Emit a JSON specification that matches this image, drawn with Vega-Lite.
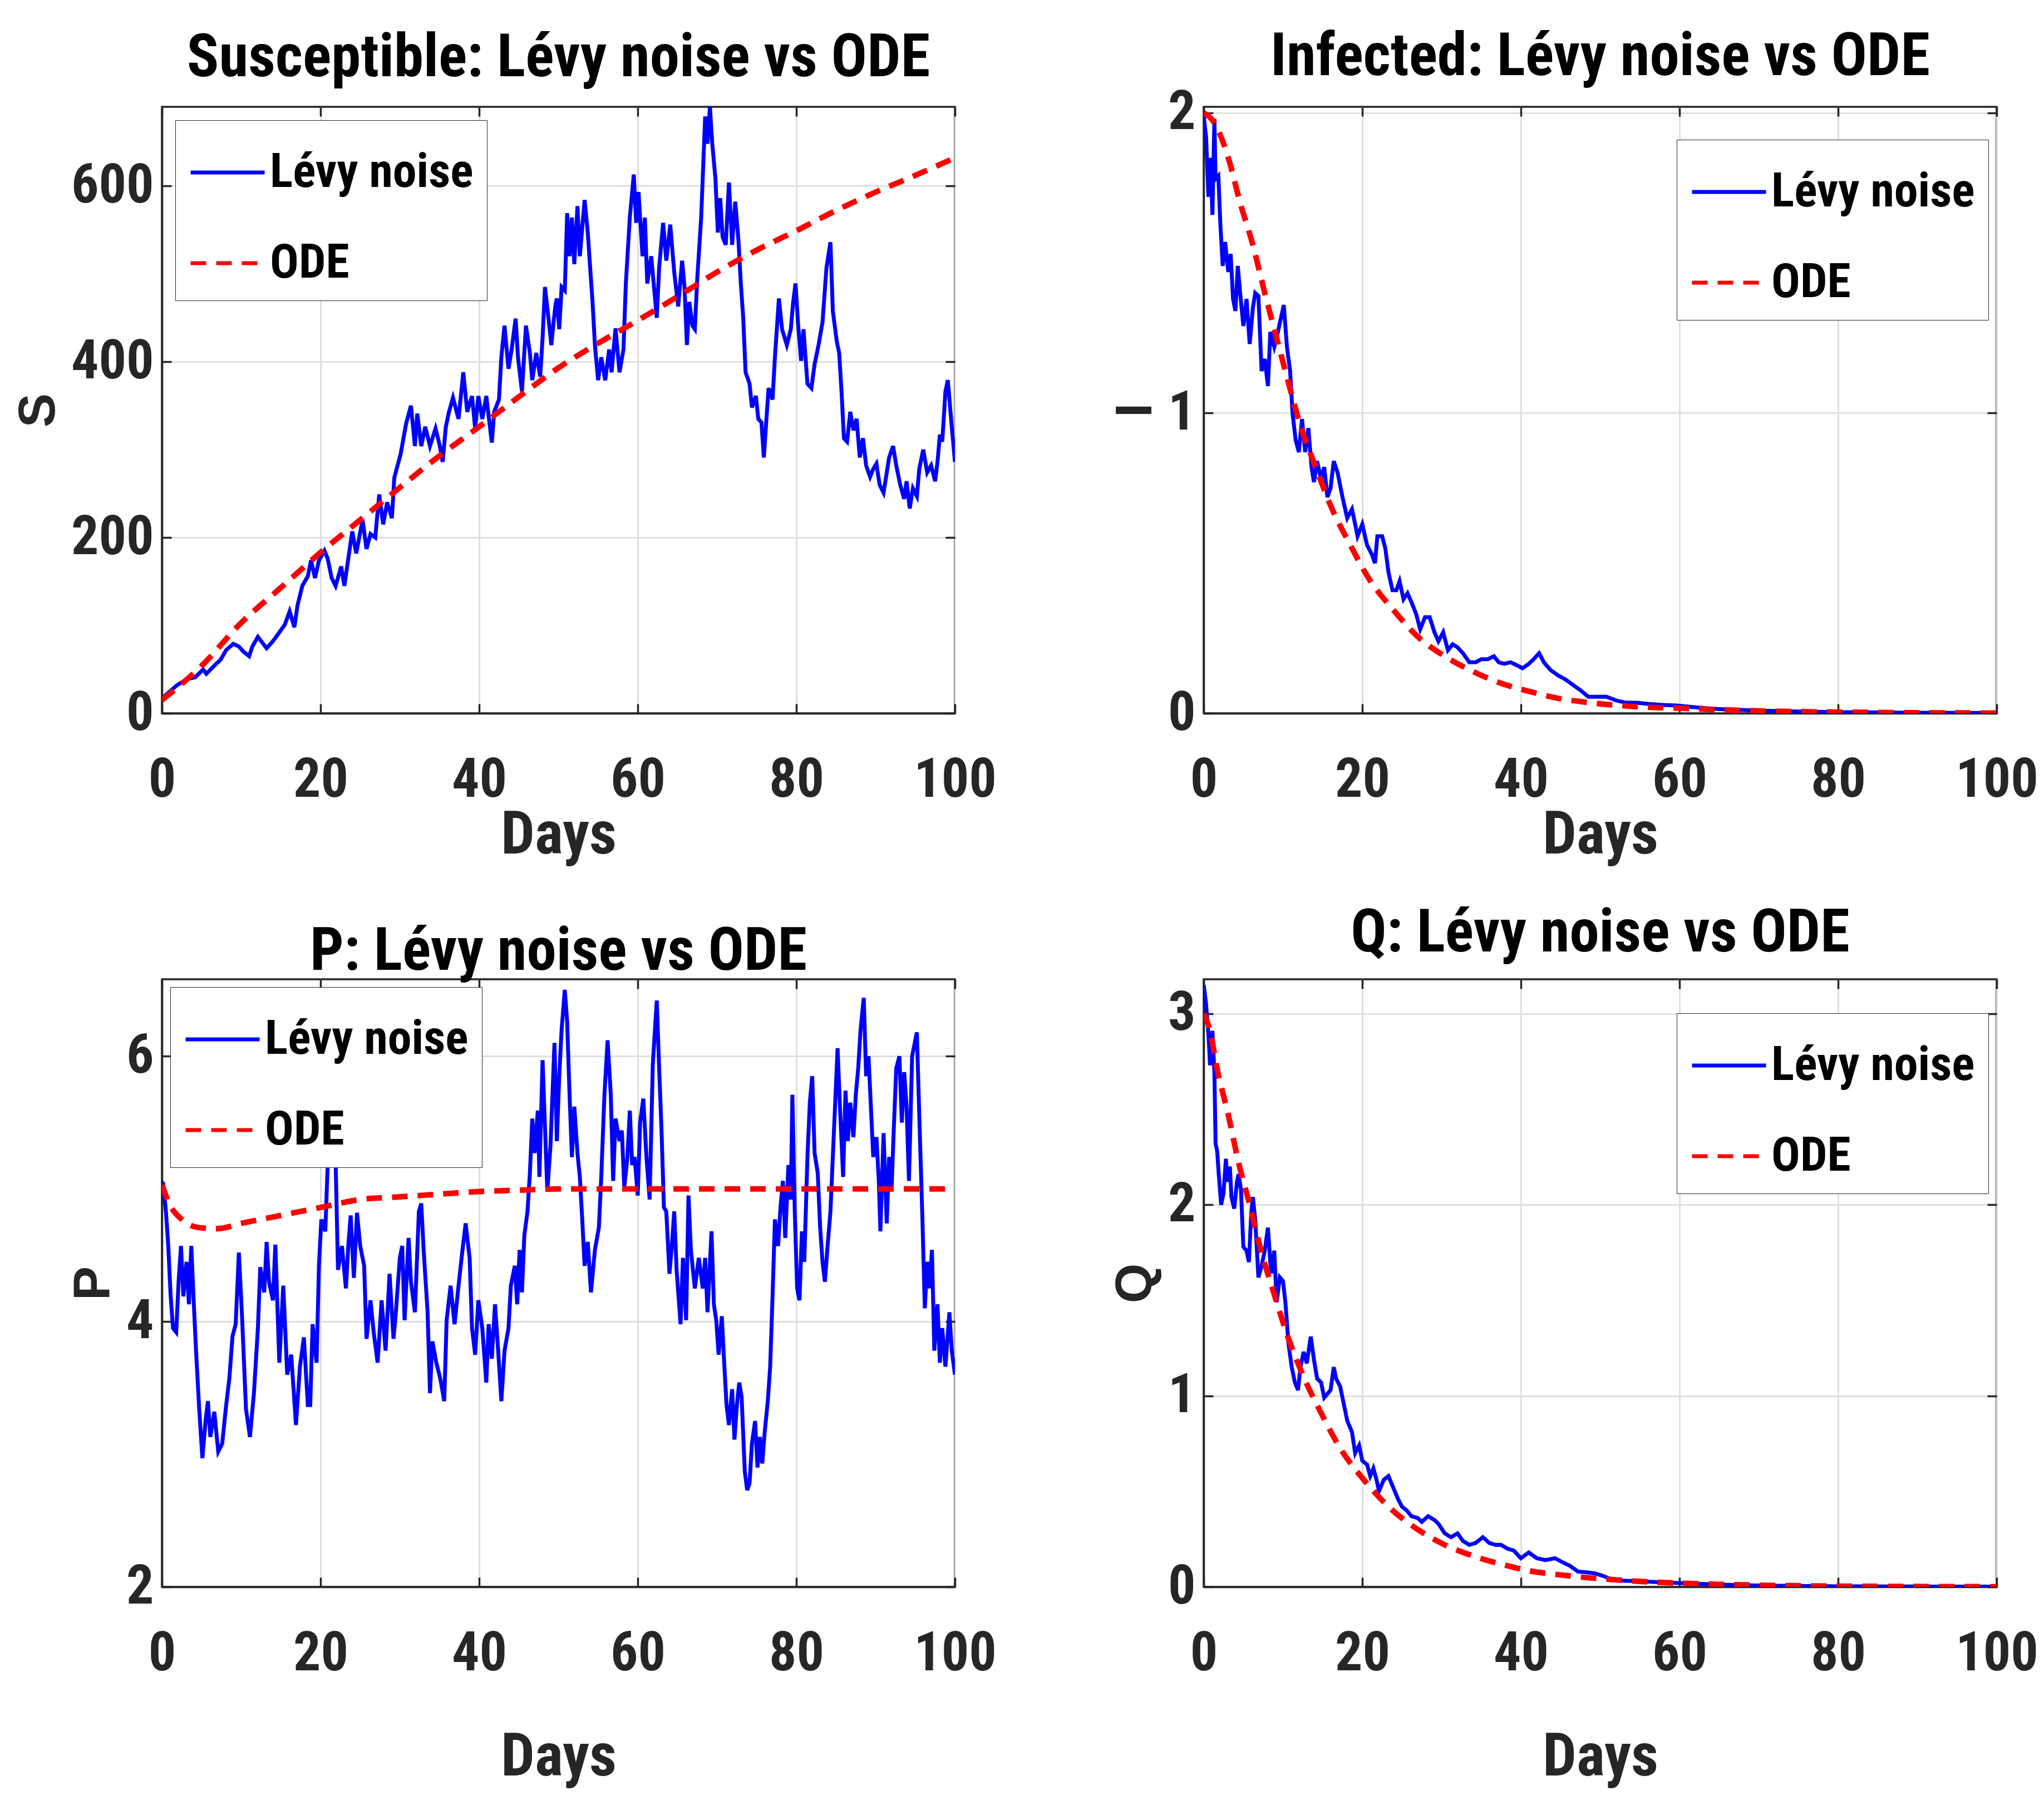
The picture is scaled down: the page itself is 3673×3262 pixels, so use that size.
{
  "$schema": "https://vega.github.io/schema/vega-lite/v6.json",
  "background": "white",
  "padding": {"left": 21, "top": 47, "right": 0, "bottom": 20},
  "columns": 2,
  "bounds": "flush",
  "spacing": {"row": 478, "column": 447},
  "resolve": {"scale": {"color": "independent", "strokeDash": "independent"}},
  "config": {
    "font": "'Roboto Condensed', 'DejaVu Sans Condensed', 'Liberation Sans'",
    "view": {"stroke": "#262626", "strokeWidth": 3.5},
    "title": {"font": "'Roboto Condensed', 'DejaVu Sans Condensed', 'Liberation Sans'", "fontWeight": "bold", "fontSize": 107, "color": "black", "anchor": "middle", "baseline": "alphabetic"},
    "axis": {
      "labelFont": "'Roboto Condensed', 'DejaVu Sans Condensed', 'Liberation Sans'", "labelFontWeight": "bold", "labelFontSize": 98, "labelColor": "#262626", "labelFlush": false,
      "domainColor": "#262626", "domainWidth": 3.5, "tickColor": "#262626", "tickWidth": 3.5, "tickSize": -17,
      "gridColor": "#dfdfdf", "gridWidth": 3,
      "titleFont": "'Roboto Condensed', 'DejaVu Sans Condensed', 'Liberation Sans'", "titleFontWeight": "bold", "titleFontSize": 108, "titleColor": "#262626"
    },
    "axisX": {"labelPadding": 89},
    "axisY": {"labelPadding": 32, "titleFont": "Liberation Sans", "titleFontSize": 92, "titlePadding": 11, "format": "d"},
    "legend": {
      "orient": "none", "title": null, "labelFont": "'Roboto Condensed', 'DejaVu Sans Condensed', 'Liberation Sans'", "labelFontWeight": "bold", "labelFontSize": 86, "labelColor": "black", "labelLimit": 3000,
      "symbolType": "stroke", "symbolSize": 17689, "symbolStrokeWidth": 7, "strokeColor": "#262626", "fillColor": "white",
      "padding": 24, "rowPadding": 50, "labelOffset": 6
    }
  },
  "datasets": {
    "S_levy": [
      {"d":0,"v":17},{"d":1.9,"v":32},{"d":3.2,"v":39},{"d":4.2,"v":41},{"d":5.2,"v":50},{"d":5.6,"v":45},{"d":6.8,"v":56},{"d":7.4,"v":61},{"d":8.1,"v":72},{"d":9.0,"v":79},{"d":9.7,"v":76},{"d":10.3,"v":70},{"d":11.0,"v":65},{"d":11.4,"v":76},{"d":12.1,"v":87},{"d":13.2,"v":74},{"d":13.9,"v":81},{"d":14.8,"v":92},{"d":15.5,"v":101},{"d":16.1,"v":116},{"d":16.7,"v":98},{"d":17.1,"v":123},{"d":17.7,"v":145},{"d":18.4,"v":156},{"d":18.8,"v":174},{"d":19.3,"v":154},{"d":19.8,"v":174},{"d":20.5,"v":185},{"d":20.9,"v":176},{"d":21.4,"v":154},{"d":21.9,"v":145},{"d":22.6,"v":167},{"d":23.0,"v":145},{"d":23.5,"v":176},{"d":24.0,"v":207},{"d":24.5,"v":182},{"d":25.3,"v":220},{"d":25.8,"v":187},{"d":26.3,"v":204},{"d":26.9,"v":200},{"d":27.4,"v":249},{"d":27.9,"v":215},{"d":28.4,"v":240},{"d":29.0,"v":222},{"d":29.3,"v":268},{"d":30.1,"v":295},{"d":30.8,"v":330},{"d":31.4,"v":350},{"d":31.9,"v":304},{"d":32.2,"v":341},{"d":32.7,"v":304},{"d":33.2,"v":326},{"d":33.8,"v":304},{"d":34.5,"v":324},{"d":35.0,"v":306},{"d":35.4,"v":286},{"d":35.8,"v":326},{"d":36.2,"v":343},{"d":36.7,"v":359},{"d":37.4,"v":335},{"d":38.0,"v":388},{"d":38.5,"v":343},{"d":39.1,"v":361},{"d":39.5,"v":324},{"d":39.9,"v":361},{"d":40.4,"v":335},{"d":40.9,"v":361},{"d":41.6,"v":308},{"d":41.9,"v":343},{"d":42.5,"v":357},{"d":42.8,"v":405},{"d":43.2,"v":441},{"d":43.7,"v":392},{"d":44.1,"v":414},{"d":44.6,"v":449},{"d":44.9,"v":405},{"d":45.4,"v":366},{"d":45.9,"v":441},{"d":46.4,"v":410},{"d":46.7,"v":379},{"d":47.2,"v":410},{"d":47.7,"v":383},{"d":48.0,"v":427},{"d":48.3,"v":485},{"d":48.8,"v":445},{"d":49.1,"v":419},{"d":49.6,"v":463},{"d":49.8,"v":472},{"d":50.1,"v":437},{"d":50.4,"v":485},{"d":50.8,"v":481},{"d":51.1,"v":569},{"d":51.4,"v":520},{"d":51.7,"v":564},{"d":52.0,"v":511},{"d":52.4,"v":577},{"d":52.7,"v":520},{"d":53.3,"v":584},{"d":53.7,"v":547},{"d":54.0,"v":507},{"d":54.3,"v":468},{"d":54.6,"v":419},{"d":55.0,"v":379},{"d":55.4,"v":405},{"d":55.9,"v":379},{"d":56.4,"v":414},{"d":56.7,"v":388},{"d":57.2,"v":438},{"d":57.7,"v":388},{"d":58.2,"v":414},{"d":58.5,"v":489},{"d":59.0,"v":564},{"d":59.5,"v":613},{"d":59.8,"v":558},{"d":60.1,"v":593},{"d":60.6,"v":520},{"d":60.9,"v":564},{"d":61.2,"v":489},{"d":61.7,"v":520},{"d":62.4,"v":450},{"d":62.7,"v":507},{"d":63.2,"v":558},{"d":63.6,"v":515},{"d":64.1,"v":556},{"d":64.6,"v":502},{"d":65.1,"v":463},{"d":65.6,"v":515},{"d":65.9,"v":485},{"d":66.2,"v":419},{"d":66.5,"v":468},{"d":66.9,"v":441},{"d":67.2,"v":437},{"d":67.5,"v":494},{"d":68.0,"v":564},{"d":68.5,"v":679},{"d":68.8,"v":648},{"d":69.1,"v":690},{"d":69.4,"v":648},{"d":69.8,"v":608},{"d":70.1,"v":547},{"d":70.4,"v":586},{"d":70.7,"v":542},{"d":71.1,"v":533},{"d":71.5,"v":604},{"d":71.9,"v":533},{"d":72.3,"v":582},{"d":72.7,"v":538},{"d":73.0,"v":489},{"d":73.3,"v":450},{"d":73.6,"v":388},{"d":74.1,"v":375},{"d":74.4,"v":348},{"d":74.9,"v":361},{"d":75.2,"v":335},{"d":75.6,"v":331},{"d":75.9,"v":291},{"d":76.2,"v":331},{"d":76.5,"v":370},{"d":77.0,"v":357},{"d":77.3,"v":405},{"d":77.8,"v":472},{"d":78.2,"v":437},{"d":78.8,"v":419},{"d":79.3,"v":437},{"d":79.6,"v":468},{"d":79.9,"v":489},{"d":80.2,"v":445},{"d":80.6,"v":401},{"d":80.9,"v":437},{"d":81.4,"v":375},{"d":81.9,"v":370},{"d":82.3,"v":397},{"d":82.8,"v":419},{"d":83.3,"v":445},{"d":83.8,"v":507},{"d":84.3,"v":536},{"d":84.6,"v":458},{"d":85.1,"v":423},{"d":85.4,"v":410},{"d":85.7,"v":366},{"d":86.0,"v":313},{"d":86.4,"v":309},{"d":86.8,"v":343},{"d":87.2,"v":322},{"d":87.6,"v":335},{"d":88.0,"v":291},{"d":88.4,"v":313},{"d":88.8,"v":282},{"d":89.3,"v":269},{"d":89.7,"v":278},{"d":90.1,"v":284},{"d":90.5,"v":260},{"d":91.0,"v":251},{"d":91.7,"v":291},{"d":92.2,"v":304},{"d":92.6,"v":282},{"d":93.1,"v":260},{"d":93.6,"v":244},{"d":93.9,"v":264},{"d":94.3,"v":233},{"d":94.7,"v":256},{"d":95.2,"v":247},{"d":95.5,"v":278},{"d":96.0,"v":300},{"d":96.5,"v":274},{"d":97.0,"v":282},{"d":97.5,"v":264},{"d":97.8,"v":286},{"d":98.1,"v":317},{"d":98.4,"v":309},{"d":98.8,"v":366},{"d":99.1,"v":379},{"d":99.6,"v":326},{"d":100,"v":286}
    ],
    "S_ode": [
      {"d":0,"v":15},{"d":5,"v":54},{"d":10,"v":103},{"d":15,"v":143},{"d":20,"v":183},{"d":25,"v":220},{"d":30,"v":257},{"d":35,"v":293},{"d":40,"v":326},{"d":45,"v":360},{"d":50,"v":393},{"d":55,"v":421},{"d":60,"v":447},{"d":65,"v":474},{"d":70,"v":502},{"d":75,"v":527},{"d":80,"v":549},{"d":85,"v":572},{"d":90,"v":593},{"d":95,"v":612},{"d":100,"v":632}
    ],
    "I_levy": [
      {"d":0,"v":1.99},{"d":0.3,"v":1.92},{"d":0.6,"v":1.72},{"d":0.85,"v":1.85},{"d":1.1,"v":1.66},{"d":1.35,"v":1.98},{"d":1.5,"v":1.78},{"d":1.85,"v":1.79},{"d":2.1,"v":1.63},{"d":2.4,"v":1.49},{"d":2.7,"v":1.57},{"d":3.1,"v":1.47},{"d":3.4,"v":1.53},{"d":3.7,"v":1.38},{"d":4.0,"v":1.34},{"d":4.3,"v":1.49},{"d":4.6,"v":1.40},{"d":5.0,"v":1.29},{"d":5.4,"v":1.38},{"d":5.8,"v":1.23},{"d":6.2,"v":1.35},{"d":6.5,"v":1.40},{"d":6.9,"v":1.39},{"d":7.3,"v":1.14},{"d":7.7,"v":1.18},{"d":8.1,"v":1.09},{"d":8.4,"v":1.27},{"d":8.9,"v":1.22},{"d":9.2,"v":1.25},{"d":9.6,"v":1.30},{"d":10.1,"v":1.36},{"d":10.5,"v":1.22},{"d":10.9,"v":1.14},{"d":11.2,"v":1.00},{"d":11.6,"v":0.91},{"d":12.0,"v":0.87},{"d":12.4,"v":0.98},{"d":12.8,"v":0.87},{"d":13.2,"v":0.95},{"d":13.6,"v":0.82},{"d":13.9,"v":0.77},{"d":14.3,"v":0.84},{"d":14.8,"v":0.78},{"d":15.2,"v":0.82},{"d":15.6,"v":0.72},{"d":16.0,"v":0.75},{"d":16.4,"v":0.84},{"d":16.9,"v":0.80},{"d":17.5,"v":0.72},{"d":18.1,"v":0.65},{"d":18.7,"v":0.68},{"d":19.1,"v":0.63},{"d":19.4,"v":0.59},{"d":20.0,"v":0.63},{"d":20.6,"v":0.56},{"d":21.2,"v":0.53},{"d":21.6,"v":0.50},{"d":21.9,"v":0.59},{"d":22.5,"v":0.59},{"d":22.9,"v":0.55},{"d":23.3,"v":0.47},{"d":23.8,"v":0.41},{"d":24.3,"v":0.41},{"d":24.7,"v":0.44},{"d":25.2,"v":0.38},{"d":25.7,"v":0.40},{"d":26.2,"v":0.37},{"d":26.8,"v":0.33},{"d":27.3,"v":0.28},{"d":27.9,"v":0.32},{"d":28.5,"v":0.32},{"d":29.1,"v":0.27},{"d":29.6,"v":0.24},{"d":30.2,"v":0.27},{"d":30.8,"v":0.21},{"d":31.4,"v":0.23},{"d":32.0,"v":0.22},{"d":32.7,"v":0.20},{"d":33.5,"v":0.17},{"d":34.3,"v":0.17},{"d":35.0,"v":0.18},{"d":35.8,"v":0.18},{"d":36.6,"v":0.19},{"d":37.2,"v":0.17},{"d":37.9,"v":0.165},{"d":38.7,"v":0.17},{"d":39.5,"v":0.16},{"d":40.2,"v":0.15},{"d":41.0,"v":0.165},{"d":41.6,"v":0.18},{"d":42.3,"v":0.20},{"d":42.9,"v":0.17},{"d":43.7,"v":0.145},{"d":44.7,"v":0.126},{"d":45.6,"v":0.113},{"d":46.6,"v":0.094},{"d":47.6,"v":0.075},{"d":48.5,"v":0.055},{"d":49.7,"v":0.055},{"d":50.8,"v":0.055},{"d":52.0,"v":0.043},{"d":53.1,"v":0.036},{"d":54.7,"v":0.035},{"d":56.2,"v":0.031},{"d":57.8,"v":0.028},{"d":59.7,"v":0.026},{"d":62,"v":0.02},{"d":65,"v":0.014},{"d":70,"v":0.009},{"d":75,"v":0.006},{"d":80,"v":0.004},{"d":90,"v":0.002},{"d":100,"v":0.001}
    ],
    "I_ode": [
      {"d":0,"v":2.0},{"d":1.5,"v":1.96},{"d":3.1,"v":1.85},{"d":4.6,"v":1.70},{"d":6.2,"v":1.56},{"d":7.7,"v":1.40},{"d":9.2,"v":1.25},{"d":10.8,"v":1.09},{"d":12.3,"v":0.95},{"d":13.9,"v":0.835},{"d":16.2,"v":0.68},{"d":18.5,"v":0.56},{"d":20.8,"v":0.45},{"d":23.9,"v":0.345},{"d":27,"v":0.255},{"d":30.4,"v":0.19},{"d":33.9,"v":0.14},{"d":37.5,"v":0.10},{"d":41.2,"v":0.072},{"d":44.9,"v":0.049},{"d":48.5,"v":0.036},{"d":52.4,"v":0.026},{"d":56.2,"v":0.02},{"d":59.7,"v":0.017},{"d":65,"v":0.012},{"d":70,"v":0.008},{"d":80,"v":0.004},{"d":90,"v":0.002},{"d":100,"v":0.001}
    ],
    "P_levy": [
      {"d":0,"v":5.05},{"d":0.16,"v":5.04},{"d":0.5,"v":4.83},{"d":0.8,"v":4.57},{"d":1.1,"v":4.19},{"d":1.4,"v":3.95},{"d":1.8,"v":3.92},{"d":2.1,"v":4.30},{"d":2.4,"v":4.57},{"d":2.7,"v":4.19},{"d":3.1,"v":4.45},{"d":3.4,"v":4.13},{"d":3.7,"v":4.57},{"d":4.0,"v":4.16},{"d":4.3,"v":3.78},{"d":4.7,"v":3.34},{"d":5.1,"v":2.97},{"d":5.5,"v":3.25},{"d":5.8,"v":3.40},{"d":6.1,"v":3.13},{"d":6.6,"v":3.32},{"d":7.1,"v":3.02},{"d":7.6,"v":3.08},{"d":8.1,"v":3.37},{"d":8.5,"v":3.57},{"d":8.9,"v":3.89},{"d":9.3,"v":3.98},{"d":9.7,"v":4.52},{"d":10.1,"v":4.04},{"d":10.6,"v":3.34},{"d":11.1,"v":3.13},{"d":11.6,"v":3.46},{"d":12.1,"v":3.95},{"d":12.4,"v":4.41},{"d":12.9,"v":4.22},{"d":13.2,"v":4.60},{"d":13.5,"v":4.30},{"d":14.0,"v":4.16},{"d":14.3,"v":4.58},{"d":14.8,"v":3.69},{"d":15.3,"v":4.27},{"d":15.8,"v":3.60},{"d":16.3,"v":3.75},{"d":16.6,"v":3.49},{"d":16.9,"v":3.22},{"d":17.4,"v":3.66},{"d":17.9,"v":3.88},{"d":18.4,"v":3.37},{"d":18.7,"v":3.37},{"d":19.0,"v":3.98},{"d":19.5,"v":3.69},{"d":19.8,"v":4.42},{"d":20.1,"v":4.77},{"d":20.6,"v":4.68},{"d":20.9,"v":5.18},{"d":21.4,"v":5.53},{"d":21.9,"v":5.21},{"d":22.2,"v":4.39},{"d":22.7,"v":4.57},{"d":23.2,"v":4.25},{"d":23.5,"v":4.57},{"d":23.8,"v":4.80},{"d":24.2,"v":4.33},{"d":24.6,"v":4.82},{"d":25.0,"v":4.57},{"d":25.5,"v":4.42},{"d":25.8,"v":3.87},{"d":26.3,"v":4.16},{"d":26.7,"v":3.92},{"d":27.2,"v":3.69},{"d":27.7,"v":4.16},{"d":28.2,"v":3.78},{"d":28.7,"v":4.36},{"d":29.2,"v":3.87},{"d":29.5,"v":4.07},{"d":30.0,"v":4.48},{"d":30.3,"v":4.57},{"d":30.6,"v":4.01},{"d":31.1,"v":4.63},{"d":31.4,"v":4.30},{"d":31.9,"v":4.07},{"d":32.4,"v":4.83},{"d":32.7,"v":4.89},{"d":33.0,"v":4.54},{"d":33.5,"v":4.07},{"d":33.8,"v":3.46},{"d":34.1,"v":3.85},{"d":34.6,"v":3.69},{"d":35.1,"v":3.57},{"d":35.6,"v":3.40},{"d":35.9,"v":4.01},{"d":36.4,"v":4.27},{"d":36.9,"v":3.98},{"d":37.4,"v":4.27},{"d":37.9,"v":4.54},{"d":38.3,"v":4.74},{"d":38.8,"v":4.48},{"d":39.1,"v":3.95},{"d":39.5,"v":3.75},{"d":39.9,"v":4.16},{"d":40.4,"v":3.95},{"d":40.9,"v":3.54},{"d":41.2,"v":3.98},{"d":41.6,"v":3.72},{"d":42.0,"v":4.13},{"d":42.4,"v":3.78},{"d":42.8,"v":3.40},{"d":43.2,"v":3.78},{"d":43.7,"v":3.95},{"d":44.0,"v":4.27},{"d":44.5,"v":4.42},{"d":44.8,"v":4.13},{"d":45.1,"v":4.54},{"d":45.4,"v":4.22},{"d":45.7,"v":4.65},{"d":46.1,"v":4.83},{"d":46.4,"v":5.12},{"d":46.7,"v":5.53},{"d":47.0,"v":5.27},{"d":47.4,"v":5.59},{"d":47.6,"v":5.09},{"d":48.0,"v":5.97},{"d":48.3,"v":5.47},{"d":48.6,"v":4.98},{"d":49.0,"v":5.33},{"d":49.5,"v":6.10},{"d":49.8,"v":5.36},{"d":50.1,"v":5.85},{"d":50.4,"v":6.20},{"d":50.8,"v":6.50},{"d":51.1,"v":6.26},{"d":51.4,"v":5.71},{"d":51.7,"v":5.24},{"d":52.0,"v":5.62},{"d":52.4,"v":5.27},{"d":52.7,"v":5.09},{"d":53.0,"v":4.77},{"d":53.3,"v":4.42},{"d":53.7,"v":4.60},{"d":54.1,"v":4.22},{"d":54.6,"v":4.54},{"d":55.1,"v":4.71},{"d":55.4,"v":5.09},{"d":55.8,"v":5.71},{"d":56.2,"v":6.12},{"d":56.6,"v":5.71},{"d":56.9,"v":5.06},{"d":57.2,"v":5.53},{"d":57.7,"v":5.36},{"d":58.0,"v":5.44},{"d":58.3,"v":5.01},{"d":58.7,"v":5.24},{"d":59.0,"v":5.59},{"d":59.3,"v":5.18},{"d":59.6,"v":5.24},{"d":60.0,"v":4.95},{"d":60.3,"v":5.50},{"d":60.7,"v":5.68},{"d":61.1,"v":5.24},{"d":61.5,"v":4.92},{"d":61.9,"v":5.94},{"d":62.4,"v":6.42},{"d":62.7,"v":5.91},{"d":63.0,"v":5.44},{"d":63.3,"v":4.86},{"d":63.6,"v":4.83},{"d":64.0,"v":4.36},{"d":64.3,"v":4.57},{"d":64.6,"v":4.83},{"d":64.9,"v":4.39},{"d":65.4,"v":3.98},{"d":65.7,"v":4.48},{"d":66.1,"v":4.01},{"d":66.4,"v":4.95},{"d":66.7,"v":4.54},{"d":67.2,"v":4.25},{"d":67.7,"v":4.48},{"d":68.2,"v":4.25},{"d":68.5,"v":4.48},{"d":68.8,"v":4.07},{"d":69.3,"v":4.68},{"d":69.6,"v":4.13},{"d":69.9,"v":4.01},{"d":70.2,"v":3.75},{"d":70.6,"v":4.04},{"d":70.9,"v":3.69},{"d":71.2,"v":3.37},{"d":71.5,"v":3.22},{"d":71.9,"v":3.49},{"d":72.2,"v":3.11},{"d":72.5,"v":3.37},{"d":72.8,"v":3.54},{"d":73.1,"v":3.43},{"d":73.5,"v":2.87},{"d":73.8,"v":2.73},{"d":74.1,"v":2.78},{"d":74.4,"v":3.08},{"d":74.8,"v":3.25},{"d":75.1,"v":2.90},{"d":75.4,"v":3.13},{"d":75.7,"v":2.93},{"d":76.0,"v":3.16},{"d":76.4,"v":3.40},{"d":76.7,"v":3.66},{"d":77.0,"v":4.19},{"d":77.3,"v":4.77},{"d":77.7,"v":4.57},{"d":78.0,"v":4.86},{"d":78.3,"v":5.06},{"d":78.6,"v":4.63},{"d":79.0,"v":5.18},{"d":79.3,"v":4.92},{"d":79.5,"v":5.71},{"d":79.8,"v":4.83},{"d":80.1,"v":4.25},{"d":80.4,"v":4.16},{"d":80.7,"v":4.68},{"d":81.0,"v":4.45},{"d":81.4,"v":5.24},{"d":81.7,"v":5.65},{"d":82.0,"v":5.85},{"d":82.3,"v":5.27},{"d":82.7,"v":5.12},{"d":83.0,"v":4.71},{"d":83.3,"v":4.45},{"d":83.6,"v":4.30},{"d":83.9,"v":4.54},{"d":84.3,"v":4.83},{"d":84.6,"v":5.24},{"d":84.9,"v":5.65},{"d":85.2,"v":6.06},{"d":85.5,"v":5.62},{"d":85.9,"v":5.09},{"d":86.2,"v":5.74},{"d":86.5,"v":5.36},{"d":86.8,"v":5.65},{"d":87.2,"v":5.39},{"d":87.5,"v":5.71},{"d":87.8,"v":5.91},{"d":88.1,"v":6.20},{"d":88.5,"v":6.44},{"d":88.8,"v":5.85},{"d":89.1,"v":6.00},{"d":89.4,"v":5.62},{"d":89.7,"v":5.24},{"d":90.1,"v":5.39},{"d":90.4,"v":5.06},{"d":90.6,"v":4.68},{"d":91.0,"v":5.42},{"d":91.4,"v":4.74},{"d":91.7,"v":5.24},{"d":92.0,"v":4.98},{"d":92.3,"v":5.47},{"d":92.6,"v":5.91},{"d":93.0,"v":6.00},{"d":93.3,"v":5.50},{"d":93.6,"v":5.88},{"d":93.9,"v":5.62},{"d":94.2,"v":5.06},{"d":94.6,"v":6.00},{"d":94.9,"v":6.09},{"d":95.2,"v":6.18},{"d":95.5,"v":5.56},{"d":95.9,"v":4.77},{"d":96.2,"v":4.10},{"d":96.5,"v":4.45},{"d":96.8,"v":4.25},{"d":97.1,"v":4.54},{"d":97.4,"v":3.78},{"d":97.8,"v":4.13},{"d":98.1,"v":3.69},{"d":98.4,"v":3.95},{"d":98.8,"v":3.66},{"d":99.3,"v":4.07},{"d":99.6,"v":3.78},{"d":100,"v":3.60}
    ],
    "P_ode": [
      {"d":0,"v":5.03},{"d":1,"v":4.88},{"d":2.5,"v":4.77},{"d":4.5,"v":4.71},{"d":7,"v":4.70},{"d":10,"v":4.74},{"d":15,"v":4.80},{"d":20,"v":4.86},{"d":25,"v":4.92},{"d":30,"v":4.94},{"d":35,"v":4.96},{"d":40,"v":4.98},{"d":45,"v":4.99},{"d":50,"v":5.0},{"d":60,"v":5.0},{"d":80,"v":5.0},{"d":100,"v":5.0}
    ],
    "Q_levy": [
      {"d":0,"v":3.15},{"d":0.3,"v":3.05},{"d":0.6,"v":2.89},{"d":0.8,"v":2.73},{"d":1.1,"v":2.91},{"d":1.35,"v":2.69},{"d":1.5,"v":2.32},{"d":1.7,"v":2.28},{"d":1.9,"v":2.16},{"d":2.2,"v":2.00},{"d":2.5,"v":2.06},{"d":2.8,"v":2.24},{"d":3.0,"v":2.12},{"d":3.3,"v":2.20},{"d":3.5,"v":2.04},{"d":3.85,"v":1.98},{"d":4.2,"v":2.12},{"d":4.4,"v":2.16},{"d":4.7,"v":2.08},{"d":5.0,"v":1.78},{"d":5.4,"v":1.76},{"d":5.7,"v":1.70},{"d":6.0,"v":1.96},{"d":6.2,"v":2.04},{"d":6.5,"v":1.92},{"d":6.9,"v":1.62},{"d":7.3,"v":1.68},{"d":7.7,"v":1.76},{"d":8.1,"v":1.88},{"d":8.5,"v":1.64},{"d":8.9,"v":1.76},{"d":9.2,"v":1.49},{"d":9.6,"v":1.62},{"d":10.0,"v":1.60},{"d":10.3,"v":1.49},{"d":10.7,"v":1.27},{"d":11.1,"v":1.15},{"d":11.5,"v":1.07},{"d":11.9,"v":1.03},{"d":12.2,"v":1.15},{"d":12.6,"v":1.23},{"d":13.0,"v":1.17},{"d":13.5,"v":1.31},{"d":13.9,"v":1.19},{"d":14.3,"v":1.09},{"d":14.8,"v":1.07},{"d":15.2,"v":0.99},{"d":15.6,"v":1.01},{"d":16.0,"v":1.03},{"d":16.4,"v":1.15},{"d":16.7,"v":1.09},{"d":17.2,"v":1.05},{"d":17.7,"v":0.95},{"d":18.1,"v":0.87},{"d":18.7,"v":0.81},{"d":19.1,"v":0.70},{"d":19.6,"v":0.74},{"d":20.0,"v":0.66},{"d":20.6,"v":0.64},{"d":21.0,"v":0.58},{"d":21.4,"v":0.62},{"d":21.8,"v":0.56},{"d":22.1,"v":0.50},{"d":22.7,"v":0.56},{"d":23.3,"v":0.58},{"d":23.9,"v":0.52},{"d":24.5,"v":0.46},{"d":25.0,"v":0.42},{"d":25.6,"v":0.40},{"d":26.2,"v":0.37},{"d":27.0,"v":0.36},{"d":27.5,"v":0.34},{"d":28.3,"v":0.37},{"d":29.1,"v":0.35},{"d":29.6,"v":0.33},{"d":30.4,"v":0.28},{"d":31.2,"v":0.26},{"d":32.0,"v":0.28},{"d":32.7,"v":0.24},{"d":33.5,"v":0.22},{"d":34.3,"v":0.23},{"d":35.2,"v":0.26},{"d":36.0,"v":0.23},{"d":36.8,"v":0.22},{"d":37.5,"v":0.22},{"d":38.3,"v":0.20},{"d":39.1,"v":0.19},{"d":40.0,"v":0.15},{"d":41.0,"v":0.18},{"d":42.0,"v":0.15},{"d":43.1,"v":0.14},{"d":44.3,"v":0.15},{"d":45.2,"v":0.13},{"d":46.2,"v":0.11},{"d":47.2,"v":0.08},{"d":48.1,"v":0.077},{"d":49.3,"v":0.071},{"d":50.4,"v":0.057},{"d":51.6,"v":0.036},{"d":53.1,"v":0.032},{"d":54.7,"v":0.03},{"d":56.6,"v":0.026},{"d":58.5,"v":0.022},{"d":60.1,"v":0.02},{"d":65,"v":0.012},{"d":70,"v":0.007},{"d":80,"v":0.003},{"d":90,"v":0.002},{"d":100,"v":0.001}
    ],
    "Q_ode": [
      {"d":0,"v":3.0},{"d":0.8,"v":2.91},{"d":1.7,"v":2.71},{"d":3.1,"v":2.47},{"d":4.4,"v":2.22},{"d":5.8,"v":2.0},{"d":7.1,"v":1.78},{"d":8.9,"v":1.53},{"d":10.6,"v":1.31},{"d":12.7,"v":1.09},{"d":14.8,"v":0.91},{"d":17.3,"v":0.72},{"d":20.2,"v":0.56},{"d":23.3,"v":0.42},{"d":27,"v":0.30},{"d":30.4,"v":0.22},{"d":34.1,"v":0.16},{"d":37.7,"v":0.117},{"d":41.2,"v":0.083},{"d":44.9,"v":0.063},{"d":48.7,"v":0.047},{"d":52.4,"v":0.036},{"d":56.2,"v":0.026},{"d":59.7,"v":0.02},{"d":70,"v":0.009},{"d":80,"v":0.004},{"d":90,"v":0.002},{"d":100,"v":0.001}
    ]
  },
  "concat": [
    {
      "width": 1425, "height": 1090,
      "title": {"text": "Susceptible: Lévy noise vs ODE", "offset": 31},
      "resolve": {"axis": {"x": "independent", "y": "independent"}},
      "layer": [
        {"data": {"name": "S_levy"}, "mark": {"type": "line", "strokeWidth": 7, "clip": true},
         "encoding": {
           "x": {"field": "d", "type": "quantitative", "scale": {"domain": [0, 100], "nice": false}, "axis": {"values": [0, 20, 40, 60, 80, 100], "title": "Days", "titlePadding": -3}},
           "y": {"field": "v", "type": "quantitative", "scale": {"domain": [0, 690], "nice": false, "zero": false}, "axis": {"values": [0, 200, 400, 600], "title": "S"}},
           "color": {"datum": "Lévy noise", "type": "nominal", "scale": {"domain": ["Lévy noise", "ODE"], "range": ["#0000ff", "#ff0000"]}, "legend": {"legendX": 24, "legendY": 24}},
           "strokeDash": {"datum": "Lévy noise", "type": "nominal", "scale": {"domain": ["Lévy noise", "ODE"], "range": [[1, 0], [28, 18]]}, "legend": {"legendX": 24, "legendY": 24}}
         }},
        {"data": {"name": "S_ode"}, "mark": {"type": "line", "strokeWidth": 10, "interpolate": "monotone", "clip": true},
         "encoding": {
           "x": {"field": "d", "type": "quantitative", "axis": {"orient": "top", "values": [0, 20, 40, 60, 80, 100], "labels": false, "grid": false, "domain": false, "title": null}},
           "y": {"field": "v", "type": "quantitative", "axis": {"orient": "right", "values": [0, 200, 400, 600], "labels": false, "grid": false, "domain": false, "title": null}},
           "color": {"datum": "ODE", "type": "nominal"}, "strokeDash": {"datum": "ODE", "type": "nominal"}}}
      ]
    },
    {
      "width": 1425, "height": 1090,
      "title": {"text": "Infected: Lévy noise vs ODE", "offset": -3},
      "resolve": {"axis": {"x": "independent", "y": "independent"}},
      "layer": [
        {"data": {"name": "I_levy"}, "mark": {"type": "line", "strokeWidth": 7, "clip": true},
         "encoding": {
           "x": {"field": "d", "type": "quantitative", "scale": {"domain": [0, 100], "nice": false}, "axis": {"values": [0, 20, 40, 60, 80, 100], "title": "Days", "titlePadding": -3}},
           "y": {"field": "v", "type": "quantitative", "scale": {"domain": [0, 2.02], "nice": false, "zero": false}, "axis": {"values": [0, 1, 2], "title": "I"}},
           "color": {"datum": "Lévy noise", "type": "nominal", "scale": {"domain": ["Lévy noise", "ODE"], "range": ["#0000ff", "#ff0000"]}, "legend": {"legendX": 850, "legendY": 59}},
           "strokeDash": {"datum": "Lévy noise", "type": "nominal", "scale": {"domain": ["Lévy noise", "ODE"], "range": [[1, 0], [28, 18]]}, "legend": {"legendX": 850, "legendY": 59}}
         }},
        {"data": {"name": "I_ode"}, "mark": {"type": "line", "strokeWidth": 10, "interpolate": "monotone", "clip": true},
         "encoding": {
           "x": {"field": "d", "type": "quantitative", "axis": {"orient": "top", "values": [0, 20, 40, 60, 80, 100], "labels": false, "grid": false, "domain": false, "title": null}},
           "y": {"field": "v", "type": "quantitative", "axis": {"orient": "right", "values": [0, 1, 2], "labels": false, "grid": false, "domain": false, "title": null}},
           "color": {"datum": "ODE", "type": "nominal"}, "strokeDash": {"datum": "ODE", "type": "nominal"}}}
      ]
    },
    {
      "width": 1425, "height": 1092,
      "title": {"text": "P: Lévy noise vs ODE", "offset": -7},
      "resolve": {"axis": {"x": "independent", "y": "independent"}},
      "layer": [
        {"data": {"name": "P_levy"}, "mark": {"type": "line", "strokeWidth": 7, "clip": true},
         "encoding": {
           "x": {"field": "d", "type": "quantitative", "scale": {"domain": [0, 100], "nice": false}, "axis": {"values": [0, 20, 40, 60, 80, 100], "title": "Days", "titlePadding": 84}},
           "y": {"field": "v", "type": "quantitative", "scale": {"domain": [2, 6.58], "nice": false, "zero": false}, "axis": {"values": [2, 4, 6], "title": "P"}},
           "color": {"datum": "Lévy noise", "type": "nominal", "scale": {"domain": ["Lévy noise", "ODE"], "range": ["#0000ff", "#ff0000"]}, "legend": {"legendX": 15, "legendY": 14}},
           "strokeDash": {"datum": "Lévy noise", "type": "nominal", "scale": {"domain": ["Lévy noise", "ODE"], "range": [[1, 0], [28, 18]]}, "legend": {"legendX": 15, "legendY": 14}}
         }},
        {"data": {"name": "P_ode"}, "mark": {"type": "line", "strokeWidth": 10, "interpolate": "monotone", "clip": true},
         "encoding": {
           "x": {"field": "d", "type": "quantitative", "axis": {"orient": "top", "values": [0, 20, 40, 60, 80, 100], "labels": false, "grid": false, "domain": false, "title": null}},
           "y": {"field": "v", "type": "quantitative", "axis": {"orient": "right", "values": [2, 4, 6], "labels": false, "grid": false, "domain": false, "title": null}},
           "color": {"datum": "ODE", "type": "nominal"}, "strokeDash": {"datum": "ODE", "type": "nominal"}}}
      ]
    },
    {
      "width": 1425, "height": 1092,
      "title": {"text": "Q: Lévy noise vs ODE", "offset": 26},
      "resolve": {"axis": {"x": "independent", "y": "independent"}},
      "layer": [
        {"data": {"name": "Q_levy"}, "mark": {"type": "line", "strokeWidth": 7, "clip": true},
         "encoding": {
           "x": {"field": "d", "type": "quantitative", "scale": {"domain": [0, 100], "nice": false}, "axis": {"values": [0, 20, 40, 60, 80, 100], "title": "Days", "titlePadding": 84}},
           "y": {"field": "v", "type": "quantitative", "scale": {"domain": [0, 3.18], "nice": false, "zero": false}, "axis": {"values": [0, 1, 2, 3], "title": "Q"}},
           "color": {"datum": "Lévy noise", "type": "nominal", "scale": {"domain": ["Lévy noise", "ODE"], "range": ["#0000ff", "#ff0000"]}, "legend": {"legendX": 850, "legendY": 61}},
           "strokeDash": {"datum": "Lévy noise", "type": "nominal", "scale": {"domain": ["Lévy noise", "ODE"], "range": [[1, 0], [28, 18]]}, "legend": {"legendX": 850, "legendY": 61}}
         }},
        {"data": {"name": "Q_ode"}, "mark": {"type": "line", "strokeWidth": 10, "interpolate": "monotone", "clip": true},
         "encoding": {
           "x": {"field": "d", "type": "quantitative", "axis": {"orient": "top", "values": [0, 20, 40, 60, 80, 100], "labels": false, "grid": false, "domain": false, "title": null}},
           "y": {"field": "v", "type": "quantitative", "axis": {"orient": "right", "values": [0, 1, 2, 3], "labels": false, "grid": false, "domain": false, "title": null}},
           "color": {"datum": "ODE", "type": "nominal"}, "strokeDash": {"datum": "ODE", "type": "nominal"}}}
      ]
    }
  ]
}
